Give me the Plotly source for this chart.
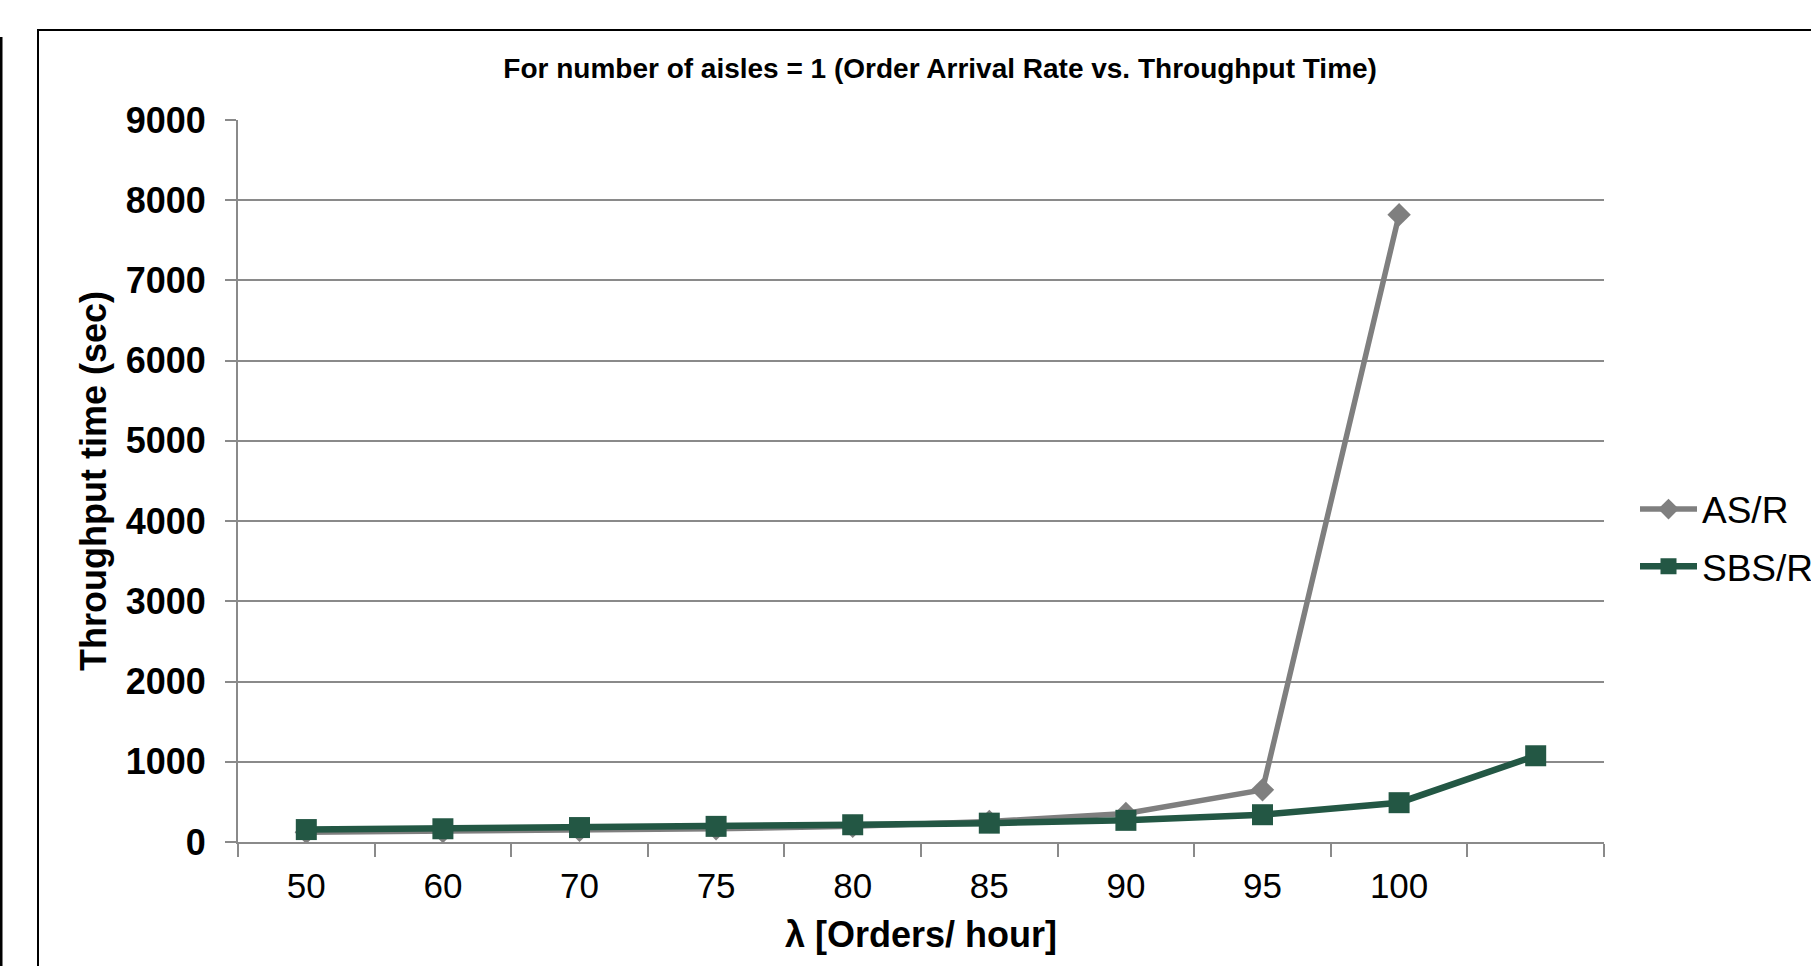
import plotly.graph_objects as go

# Order arrival rate labels; the series has one further, unlabeled slot
arrival_rate = ["50", "60", "70", "75", "80", "85", "90", "95", "100"]

# Throughput time in seconds
asr_time = [120, 130, 145, 165, 195, 255, 355, 650, 7820, None]
sbsr_time = [155, 165, 180, 195, 215, 235, 270, 340, 490, 1075]

y_ticks = [0, 1000, 2000, 3000, 4000, 5000, 6000, 7000, 8000, 9000]

slots = list(range(len(sbsr_time)))

FONT = "Liberation Sans, Arial, sans-serif"
GRID = "#8a8a8a"
GRAY = "#7f7f7f"
GREEN = "#235744"

fig = go.Figure()

fig.add_trace(go.Scatter(
    x=slots, y=asr_time, name="AS/R", mode="lines+markers",
    legendgroup="a",
    line=dict(color=GRAY, width=5.5),
    marker=dict(symbol="diamond", size=18, color=GRAY),
))
fig.add_trace(go.Scatter(
    x=slots, y=sbsr_time, name="SBS/R", mode="lines+markers",
    legendgroup="b",
    line=dict(color=GREEN, width=6.5),
    marker=dict(symbol="square", size=21, color=GREEN),
))

fig.update_layout(
    width=1811, height=966,
    margin=dict(l=238, r=207, t=120, b=124, autoexpand=False),
    paper_bgcolor="white", plot_bgcolor="white",
    font=dict(family=FONT, color="black"),
    title=dict(
        text="<b>For number of aisles = 1 (Order Arrival Rate vs. Throughput Time)</b>",
        font=dict(size=28, family=FONT, color="black"),
        x=0.514, xref="paper", xanchor="center",
        y=1 - 68 / 966, yref="container", yanchor="middle",
    ),
    legend=dict(
        xref="container", yref="container",
        x=1635 / 1811, xanchor="left", y=1 - 538 / 966, yanchor="middle",
        font=dict(size=37, family=FONT, color="black"),
        bgcolor="rgba(0,0,0,0)", itemwidth=57, tracegroupgap=6,
    ),
    showlegend=True,
)

fig.update_xaxes(
    range=[-0.5, len(slots) - 0.5], automargin=False,
    tickmode="array", tickvals=slots[:len(arrival_rate)], ticktext=arrival_rate,
    ticks="", ticklabelstandoff=12,
    minor=dict(tickmode="array", tickvals=[s - 0.5 for s in slots] + [len(slots) - 0.5],
               ticks="outside", ticklen=13, tickwidth=2, tickcolor=GRID, showgrid=False),
    showline=True, linecolor=GRID, linewidth=2, showgrid=False, zeroline=False,
    tickfont=dict(size=35, family=FONT, color="black"),
    title=dict(text="<b>λ [Orders/ hour]</b>", font=dict(size=36, family=FONT, color="black"), standoff=18),
)
fig.update_yaxes(
    range=[0, 9000], tickmode="array", tickvals=y_ticks, automargin=False,
    ticks="outside", ticklen=11, tickwidth=2, tickcolor=GRID, ticklabelstandoff=12,
    showline=True, linecolor=GRID, linewidth=2,
    showgrid=True, gridcolor=GRID, gridwidth=2, zeroline=False,
    tickfont=dict(size=36, family=FONT, color="black", weight="bold"),
    title=dict(text="<b>Throughput time (sec)</b>", font=dict(size=36, family=FONT, color="black"), standoff=8),
)

# Chart frame and the neighbouring panel edge
fig.add_shape(type="rect", xref="paper", yref="paper",
              x0=(38 - 238) / 1366, x1=1.3, y0=-0.3, y1=(842 - 30) / 722,
              line=dict(color="black", width=2), layer="below")
fig.add_shape(type="line", xref="paper", yref="paper",
              x0=(1 - 238) / 1366, x1=(1 - 238) / 1366, y0=-0.3, y1=(842 - 37) / 722,
              line=dict(color="black", width=3))

fig.write_html("out.html")
